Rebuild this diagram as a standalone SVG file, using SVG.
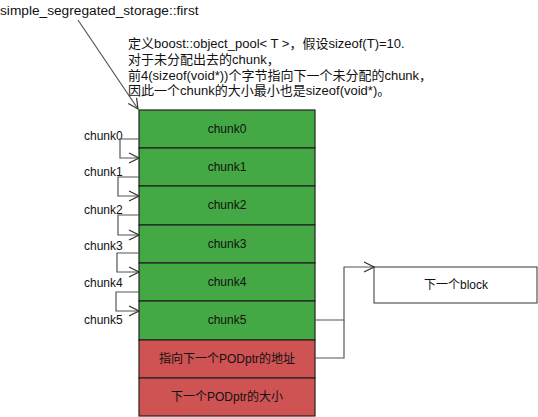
<svg xmlns="http://www.w3.org/2000/svg" width="538" height="417" viewBox="0 0 538 417">
<defs>
<marker id="open" viewBox="0 0 12 12" refX="11" refY="6" markerWidth="12" markerHeight="12" markerUnits="userSpaceOnUse" orient="auto">
<path d="M1,1 L11,6 L1,11" fill="none" stroke="#333" stroke-width="1.2"/>
</marker>
<style>
text{font-family:"Liberation Sans","Noto Sans CJK SC",sans-serif;font-size:12px;fill:#111}
.n{font-size:13px}
.g{fill:#44a944;stroke:#222;stroke-width:1.2}
.r{fill:#cf5353;stroke:#222;stroke-width:1.2}
.c{text-anchor:middle;dominant-baseline:central}
.w{fill:none;stroke:#555;stroke-width:1.2}
</style>
</defs>
<rect width="538" height="417" fill="#fff"/>
<text x="0" y="15" style="font-size:13.7px">simple_segregated_storage::first</text>
<g id="note">
<text class="n" x="128" y="48">定义boost::object_pool&lt; T &gt;，假设sizeof(T)=10.</text>
<text class="n" x="128" y="64">对于未分配出去的chunk，</text>
<text class="n" x="128" y="80">前4(sizeof(void*))个字节指向下一个未分配的chunk，</text>
<text class="n" x="128" y="95">因此一个chunk的大小最小也是sizeof(void*)。</text>
</g>
<g id="chunk0"><rect class="g" x="139" y="110" width="176" height="38"/><text class="c" x="227" y="129">chunk0</text></g>
<g id="chunk1"><rect class="g" x="139" y="148" width="176" height="38"/><text class="c" x="227" y="167">chunk1</text></g>
<g id="chunk2"><rect class="g" x="139" y="186" width="176" height="39"/><text class="c" x="227" y="205">chunk2</text></g>
<g id="chunk3"><rect class="g" x="139" y="225" width="176" height="38"/><text class="c" x="227" y="244">chunk3</text></g>
<g id="chunk4"><rect class="g" x="139" y="263" width="176" height="38"/><text class="c" x="227" y="282">chunk4</text></g>
<g id="chunk5"><rect class="g" x="139" y="301" width="176" height="39"/><text class="c" x="227" y="320">chunk5</text></g>
<g id="next_addr"><rect class="r" x="139" y="340" width="176" height="38"/><text class="c" x="227" y="359">指向下一个PODptr的地址</text></g>
<g id="next_size"><rect class="r" x="139" y="378" width="176" height="38"/><text class="c" x="227" y="397">下一个PODptr的大小</text></g>
<g id="next_block"><rect x="374" y="267" width="163" height="36" fill="#fff" stroke="#333" stroke-width="1"/><text class="c" x="456" y="285">下一个block</text></g>
<g id="labels">
<text x="84" y="140">chunk0</text>
<text x="84" y="176">chunk1</text>
<text x="84" y="214">chunk2</text>
<text x="84" y="250">chunk3</text>
<text x="84" y="287">chunk4</text>
<text x="84" y="324">chunk5</text>
</g>
<g id="connectors">
<line class="w" x1="78" y1="20" x2="138" y2="109" marker-end="url(#open)"/>
<polyline class="w" points="139,139 120,139 120,158 139,158" marker-end="url(#open)"/>
<polyline class="w" points="139,177 118,177 118,196 139,196" marker-end="url(#open)"/>
<polyline class="w" points="139,215 118,215 118,235 139,235" marker-end="url(#open)"/>
<polyline class="w" points="139,253 117,253 117,272 139,272" marker-end="url(#open)"/>
<polyline class="w" points="139,292 116,292 116,311 139,311" marker-end="url(#open)"/>
<polyline class="w" points="315,358 344,358 344,320"/>
<polyline class="w" points="315,320 344,320 344,267 374,267" marker-end="url(#open)"/>
</g>
</svg>
